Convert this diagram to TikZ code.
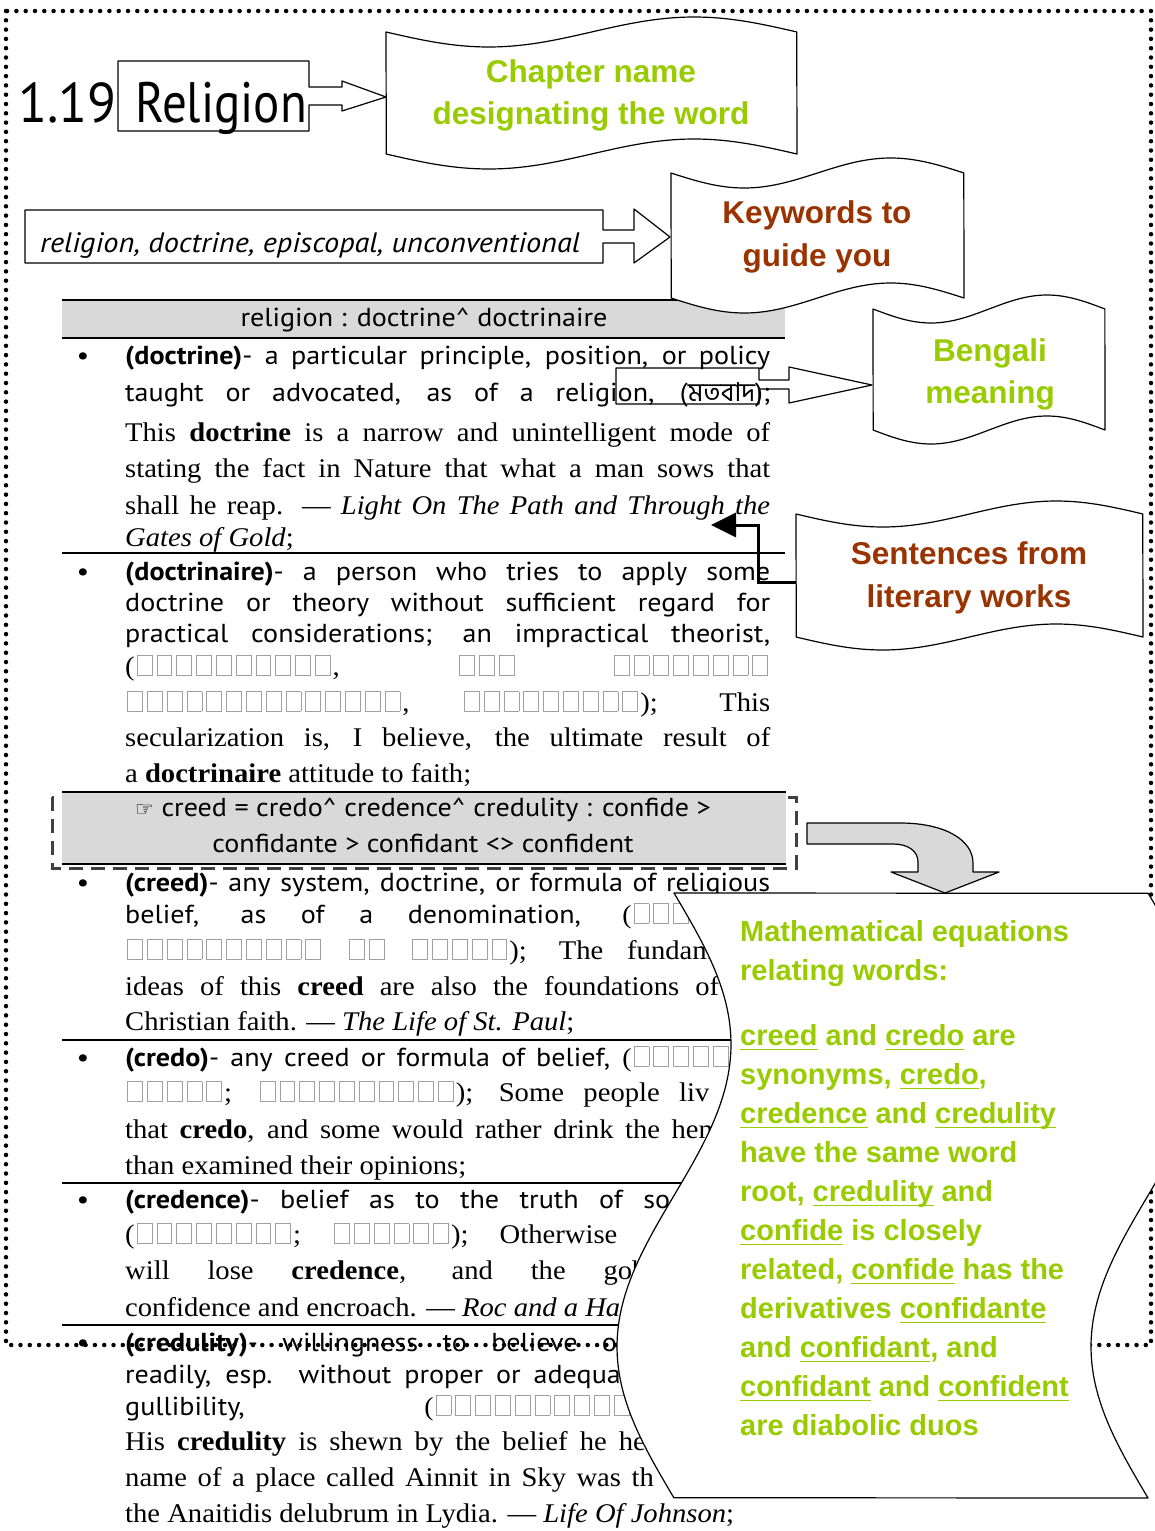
\documentclass[tikz,border=0pt]{standalone}
\usepackage{fontspec}
\usetikzlibrary{arrows.meta}
\setmainfont{Liberation Serif}[FakeStretch=1.06]
\newfontfamily\ptwide{PT Sans}[FakeStretch=1.08]
\newfontfamily\ptnarrow{PT Sans}[FakeStretch=0.86]
\newfontfamily\ptnum{PT Sans}[FakeStretch=0.95]
\newfontfamily\arialfam{Liberation Sans}
\newfontfamily\bengfont{Hind Siliguri}[Script=Bengali]
\newfontfamily\djvfont{DejaVu Sans}
\definecolor{lgreen}{HTML}{99CC00}
\definecolor{brownc}{HTML}{993300}
\definecolor{barg}{HTML}{D9D9D9}
\definecolor{boxgray}{HTML}{A0A0A0}
\definecolor{dashg}{HTML}{404040}
\newcommand\sansbody{\ptwide\fontsize{26}{30}\selectfont}
\newcommand\serifbody{\rmfamily\fontsize{27}{30}\selectfont}
\newcommand\calloutfont{\arialfam\bfseries\fontsize{31.5}{38}\selectfont}
\newcommand\mathfont{\arialfam\bfseries\fontsize{29}{39}\selectfont}
\newcommand\bx{\kern2pt\relax{\color{boxgray}\fboxsep=0pt\fboxrule=0.9pt\fbox{\rule{0pt}{19pt}\rule{14pt}{0pt}}}\kern2pt\relax}
\ExplSyntaxOn
\cs_new:Npn \bxs #1 { \prg_replicate:nn {#1} {\bx} }
\ExplSyntaxOff
\newcommand\jl[1]{\makebox[645pt][s]{#1}}
\newcommand\ph[1]{\phantom{#1}}
\newsavebox\gulbox
\newcommand\gul[1]{\sbox\gulbox{#1}\rlap{\rule[-5pt]{\wd\gulbox}{1.5pt}}\usebox\gulbox}
\newcommand\tapeshape[5]{%
  \draw[shapeline, fill=white] plot[domain=0:1, samples=60] ({#1+\x*#3},{#2+#5*sin(360*\x)})
    -- plot[domain=1:0, samples=60] ({#1+\x*#3},{#2+#4+#5*sin(360*\x)}) -- cycle;}
\tikzset{
  sl/.style={anchor=base west, inner sep=0pt, font=\sansbody},
  rl/.style={anchor=base west, inner sep=0pt, font=\serifbody},
  bul/.style={anchor=base, inner sep=0pt, font=\sansbody},
  ml/.style={anchor=base west, inner sep=0pt, font=\mathfont, text=lgreen},
  cl/.style={anchor=base, inner sep=0pt, font=\calloutfont},
  shapeline/.style={draw=black, line width=1.2pt, line join=round},
  sepline/.style={draw=black, line width=1.5pt},
}
\begin{document}
\begin{tikzpicture}[x=1pt,y=-1pt]
\fill[white] (0,0) rectangle (1155,1531);
\useasboundingbox (0,0) rectangle (1155,1531);

% ---------- bands and separators ----------
\fill[barg] (62,300) rectangle (785,338);
\draw[sepline] (62,300) -- (785,300);
\draw[sepline] (62,338) -- (785,338);
\draw[sepline] (62,553) -- (785,553);
\draw[dashg, line width=3pt, dash pattern=on 14pt off 8pt] (52,797) rectangle (796,868);
\fill[barg] (62,792) rectangle (786,864);
\draw[sepline] (62,792) -- (786,792);
\draw[sepline] (62,864) -- (786,864);
\draw[sepline] (62,1040) -- (785,1040);
\draw[sepline] (62,1183) -- (785,1183);
\draw[sepline] (62,1325) -- (785,1325);

% ---------- header texts ----------
\node[anchor=base west, inner sep=0pt, font=\ptnum\fontsize{56}{60}\selectfont] (num) at (18,122) {1.19};
\node[anchor=base west, inner sep=0pt, font=\ptnarrow\fontsize{57}{60}\selectfont] (rel) at (135,122) {Religion};
\node[anchor=base west, inner sep=0pt, font=\ptwide\itshape\fontsize{28.1}{30}\selectfont] (kwt) at (40,252) {religion, doctrine, episcopal, unconventional};
\node[anchor=base, inner sep=0pt, font=\sansbody] (hdr) at (424,326) {religion : doctrine\textasciicircum{} doctrinaire};
\node[anchor=base, inner sep=0pt, font=\sansbody] (g1) at (423,816) {{\djvfont\fontsize{21}{22}\selectfont ☞} creed = credo\textasciicircum{} credence\textasciicircum{} credulity : confide >};
\node[anchor=base, inner sep=0pt, font=\sansbody] (g2) at (423,852) {confidante > confidant <> confident};

% ---------- doctrine ----------
\node[bul] (b1) at (83,364) {•};
\node[sl] (d1) at (125,364) {\jl{\textbf{(doctrine)}- a particular principle, position, or policy}};
\node[sl] (d2) at (125,401) {\jl{taught or advocated, as of a religion, ({\bengfont মতবাদ});}};
\node[rl] (d3) at (125,441) {\jl{This \textbf{doctrine} is a narrow and unintelligent mode of}};
\node[rl] (d4) at (125,477) {\jl{stating the fact in Nature that what a man sows that}};
\node[rl] (d5) at (125,514) {\jl{shall he reap. — \textit{Light On The Path and Through the}}};
\node[rl] (d6) at (125,546) {\textit{Gates of Gold};};

% ---------- doctrinaire ----------
\node[bul] (b2) at (83,580) {•};
\node[sl] (n1) at (125,580) {\jl{\textbf{(doctrinaire)}- a person who tries to apply some}};
\node[sl] (n2) at (125,611) {\jl{doctrine or theory without sufficient regard for}};
\node[sl] (n3) at (125,642) {\jl{practical considerations; an impractical theorist,}};
\node[rl] (n4) at (125,675) {\jl{(\bxs{10}, \bxs{3} \bxs{8}}};
\node[rl] (n5) at (125,711) {\jl{\bxs{14}, \bxs{9}); This}};
\node[rl] (n6) at (125,746) {\jl{secularization is, I believe, the ultimate result of}};
\node[rl] (n7) at (125,782) {a \textbf{doctrinaire} attitude to faith;};

% ---------- creed ----------
\node[bul] (b3) at (83,891) {•};
\node[sl] (c1) at (125,891) {\jl{\textbf{(creed)}- any system, doctrine, or formula of religious}};
\node[sl] (c2) at (125,923) {\jl{belief, as of a denomination, {\rmfamily(}\bxs{7}}};
\node[rl] (c3) at (125,959) {\jl{\bxs{10} \bxs{2} \bxs{5}); The fundam\ph{ental}}};
\node[rl] (c4) at (125,995) {\jl{ideas of this \textbf{creed} are also the foundations of \ph{the}}};
\node[rl] (c5) at (125,1030) {Christian faith. — \textit{The Life of St. Paul};};

% ---------- credo ----------
\node[bul] (b4) at (83,1066) {•};
\node[sl] (o1) at (125,1066) {\jl{\textbf{(credo)}- any creed or formula of belief, {\rmfamily(}\bxs{7}}};
\node[rl] (o2) at (125,1101) {\jl{\bxs{5}; \bxs{10}); Some people liv\ph{e} \ph{by}}};
\node[rl] (o3) at (125,1138) {\jl{that \textbf{credo}, and some would rather drink the hem\ph{lock}}};
\node[rl] (o4) at (125,1174) {than examined their opinions;};

% ---------- credence ----------
\node[bul] (b5) at (83,1208) {•};
\node[sl] (e1) at (125,1208) {\jl{\textbf{(credence)}- belief as to the truth of so\ph{mething}}};
\node[rl] (e2) at (125,1243) {\jl{(\bxs{8}; \bxs{6}); Otherwise \ph{the} \ph{fairies}}};
\node[rl] (e3) at (125,1279) {\jl{will lose \textbf{credence}, and the goblins \ph{will}}};
\node[rl] (e4) at (125,1316) {confidence and encroach. — \textit{Roc and a Ha}};

% ---------- credulity ----------
\node[bul] (b6) at (83,1351) {•};
\node[sl] (u1) at (125,1351) {\jl{\textbf{(credulity)}- willingness to believe o\ph{r} \ph{trust} \ph{too}}};
\node[sl] (u2) at (125,1383) {\jl{readily, esp. without proper or adequa\ph{te} \ph{evidence;}}};
\node[sl] (u3) at (125,1415) {\jl{gullibility, {\rmfamily(}\bxs{17}}};
\node[rl] (u4) at (125,1450) {\jl{His \textbf{credulity} is shewn by the belief he he\ph{ld} \ph{that} \ph{the}}};
\node[rl] (u5) at (125,1486) {\jl{name of a place called Ainnit in Sky was th\ph{e} \ph{same} \ph{as}}};
\node[rl] (u6) at (125,1522) {the Anaitidis delubrum in Lydia. — \textit{Life Of Johnson};};

% ---------- dotted page border ----------
\draw[line width=4.5pt, line cap=round, dash pattern=on 0pt off 9.3pt] (6,11) rectangle (1151,1345);

% ---------- boxes with block arrows ----------
\draw[shapeline] (118,61) -- (309,61) -- (309,87) -- (342,87) -- (342,81) -- (386,97)
  -- (342,111) -- (342,105) -- (309,105) -- (309,131) -- (118,131) -- cycle;
\draw[shapeline] (25,210) -- (603,210) -- (603,230) -- (634,230) -- (634,209) -- (670,237)
  -- (634,263) -- (634,243) -- (603,243) -- (603,263) -- (25,263) -- cycle;
\draw[shapeline] (616,368) -- (759,368) -- (759,380) -- (789,380) -- (789,367) -- (872,385)
  -- (789,403) -- (789,389) -- (759,389) -- (759,404) -- (616,404) -- cycle;

% ---------- tape callouts ----------
\tapeshape{386}{32}{411}{122}{15}
\tapeshape{671}{173}{293}{125}{15}
\tapeshape{873}{309}{232}{121}{14}
\tapeshape{796}{514}{347}{123}{13}
\node[cl, text=lgreen] (ch1) at (591,82) {Chapter name};
\node[cl, text=lgreen] (ch2) at (591,124) {designating the word};
\node[cl, text=brownc] (kw1) at (817,223) {Keywords to};
\node[cl, text=brownc] (kw2) at (817,266) {guide you};
\node[cl, text=lgreen] (bn1) at (990,361) {Bengali};
\node[cl, text=lgreen] (bn2) at (990,403) {meaning};
\node[cl, text=brownc] (st1) at (969,564) {Sentences from};
\node[cl, text=brownc] (st2) at (969,607) {literary works};

% ---------- elbow arrow to the quotation ----------
\coordinate (sentL) at (796,582);
\coordinate (quoteTip) at (711,525);
\draw[line width=3pt, -{Triangle[length=25pt,width=24pt]}] (sentL) -- (758,582) -- (758,525) -- (quoteTip);

% ---------- bent gray arrow ----------
\draw[shapeline, fill=barg] (807,823) -- (900,823) .. controls (945,823) and (973,840) .. (973,863)
  -- (973,872) -- (999,872) -- (945,893) -- (891,872) -- (918,872) -- (918,862)
  .. controls (918,851) and (908,844) .. (893,844) -- (807,844) -- cycle;

% ---------- big vertical wave callout ----------
\draw[shapeline, fill=white] plot[domain=0:1, samples=90] ({674+57*sin(360*\x)},{893+605*\x})
  -- plot[domain=1:0, samples=90] ({1148+57*sin(360*\x)},{893+605*\x}) -- cycle;
\node[ml] (m1) at (740,941) {Mathematical equations};
\node[ml] (m2) at (740,980) {relating words:};
\node[ml] (m3) at (740,1045) {\gul{creed} and \gul{credo} are};
\node[ml] (m4) at (740,1084) {synonyms, \gul{credo},};
\node[ml] (m5) at (740,1123) {\gul{credence} and \gul{credulity}};
\node[ml] (m6) at (740,1162) {have the same word};
\node[ml] (m7) at (740,1201) {root, \gul{credulity} and};
\node[ml] (m8) at (740,1240) {\gul{confide} is closely};
\node[ml] (m9) at (740,1279) {related, \gul{confide} has the};
\node[ml] (m10) at (740,1318) {derivatives \gul{confidante}};
\node[ml] (m11) at (740,1357) {and \gul{confidant}, and};
\node[ml] (m12) at (740,1396) {\gul{confidant} and \gul{confident}};
\node[ml] (m13) at (740,1435) {are diabolic duos};
\end{tikzpicture}
\end{document}
